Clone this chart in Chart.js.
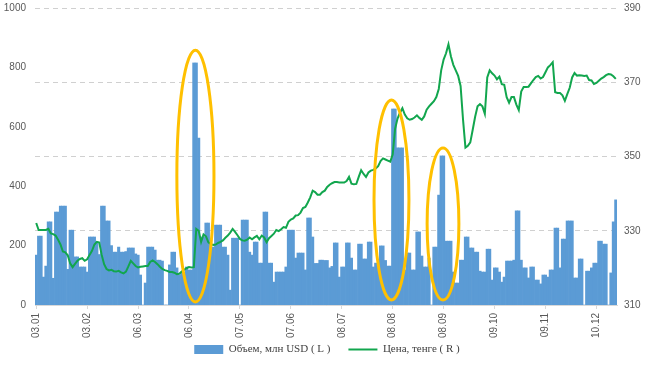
<!DOCTYPE html>
<html>
<head>
<meta charset="utf-8">
<script src="https://cdn.jsdelivr.net/npm/chart.js@4.4.1/dist/chart.umd.min.js"></script>
<style>
html,body{margin:0;padding:0;background:#fff;}
#wrap{width:654px;height:367px;position:relative;}
</style>
</head>
<body>
<div id="wrap"><canvas id="c"></canvas></div>
<script>
// Trading volume, mln USD (left axis)
const volume = [
168,232,232,94,131,280,280,90,313,313,333,333,333,120,252,252,162,162,128,128,
128,111,229,229,229,212,170,333,333,283,283,200,178,178,195,178,178,180,192,192,
192,172,168,101,0,74,195,195,195,185,151,151,148,0,0,135,178,178,125,100,
108,108,128,118,118,815,815,562,229,229,276,276,195,195,269,269,269,195,195,168,
50,225,225,225,0,286,286,286,178,168,212,212,141,141,313,313,141,141,77,111,
111,111,111,128,252,252,252,158,175,175,175,118,293,293,229,140,140,151,151,150,
150,125,130,209,209,94,128,128,209,209,158,118,118,205,205,155,155,212,212,128,
141,141,199,199,150,131,131,660,660,529,529,529,118,175,175,118,118,246,246,165,
128,128,158,0,195,195,370,502,502,215,215,215,111,74,74,151,151,229,229,192,
192,178,178,114,111,111,188,188,84,125,125,111,77,94,148,148,148,151,317,317,
151,125,125,91,128,128,84,84,71,101,101,94,118,118,259,259,125,222,222,283,
283,283,91,91,155,155,0,114,114,125,141,141,215,215,205,205,0,108,280,354
];
// Price, tenge (right axis)
const price = [
332.1,330.2,330.2,330.2,330.2,330.5,329.3,329.1,328.7,327.6,326.3,324.4,324.2,323.4,321.2,320.2,321.1,321.9,322.4,322.6,
321.9,322.3,323.5,324.6,326.3,327.0,326.8,323.5,321.0,319.7,319.3,319.5,319.1,319.0,319.2,318.8,318.5,319.0,320.4,321.9,
321.2,320.5,320.1,320.3,320.4,320.5,320.5,321.6,322.0,321.6,321.0,320.3,319.7,319.4,319.2,318.9,318.9,318.7,318.3,318.4,
319.0,319.5,319.9,320.2,320.1,320.2,330.5,330.0,327.0,329.0,328.5,326.9,326.4,326.2,326.3,326.7,327.0,327.4,328.1,328.7,
329.5,330.5,329.7,328.8,327.8,327.4,327.3,327.6,328.2,327.7,328.2,328.6,327.7,328.7,328.2,326.9,328.0,328.6,329.2,330.2,
329.9,330.4,331.0,330.8,332.4,333.0,333.3,334.1,334.2,334.9,336.1,336.4,337.6,339.0,340.8,340.4,339.7,339.7,340.4,340.8,
341.8,342.4,342.8,343.1,343.1,343.0,343.0,343.0,343.4,344.5,342.7,342.5,342.6,344.5,346.3,345.3,344.5,345.7,346.2,346.4,
346.8,347.4,348.8,349.5,349.2,348.9,348.6,350.5,357.5,360.2,361.8,363.0,361.3,360.3,359.9,360.1,360.5,361.1,360.4,359.9,
360.8,362.6,363.5,364.2,364.9,366.0,368.2,373.2,376.1,377.8,380.2,377.0,374.7,373.2,371.7,369.0,360.0,352.4,352.9,353.8,
357.2,360.7,363.5,364.1,363.5,361.5,371.3,373.2,372.4,371.8,370.8,371.5,369.5,369.3,366.0,364.5,366.0,366.0,364.0,362.5,
367.5,368.7,368.7,368.8,369.7,370.6,371.4,371.7,371.0,371.4,372.7,374.0,374.6,375.4,367.3,367.1,367.1,366.5,365.0,366.8,
368.5,371.3,372.5,371.8,371.9,371.8,371.7,371.8,370.6,370.5,369.5,369.8,370.4,371.0,371.4,371.9,372.2,372.1,371.6,370.9
];
// Day slots (categories) and the labelled ticks
const days = volume.map((_, i) => i);
const tickIndex = [0, 21, 42, 63, 84, 105, 126, 147, 168, 189, 210, 231];
const tickLabels = ['03.01','03.02','06.03','06.04','07.05','07.06','08.07','08.08','08.09','09.10','09.11','10.12'];
const volumeTicks = [0, 200, 400, 600, 800, 1000];
const priceTicks = [310, 330, 350, 370, 390];
const seriesNames = ['Объем, млн USD ( L )', 'Цена, тенге ( R )'];
// Highlighted areas (in data units: slot index range, volume range)
const highlights = [
  {from: 58.0, to: 73.3, top: 858, bottom: 10},
  {from: 139.3, to: 153.7, top: 690, bottom: 17},
  {from: 161.2, to: 174.3, top: 529, bottom: 17}
];

const ellipsePlugin = {
  id: 'ellipses',
  afterDatasetsDraw(chart) {
    const ctx = chart.ctx, xs = chart.scales.x, ys = chart.scales.yL;
    ctx.save();
    ctx.strokeStyle = '#FFC000';
    ctx.lineWidth = 3;
    highlights.forEach(h => {
      const x1 = xs.getPixelForValue(h.from), x2 = xs.getPixelForValue(h.to);
      const y1 = ys.getPixelForValue(h.top), y2 = ys.getPixelForValue(h.bottom);
      ctx.beginPath();
      ctx.ellipse((x1 + x2) / 2, (y1 + y2) / 2, Math.abs(x2 - x1) / 2, Math.abs(y2 - y1) / 2, 0, 0, Math.PI * 2);
      ctx.stroke();
    });
    ctx.restore();
  }
};
// Lift the legend a little so it sits just under the rotated date labels
const legendShift = {
  id: 'legendShift',
  afterLayout(chart) {
    const lg = chart.legend;
    if (lg) { lg.top -= 15; lg.height += 15; }
  }
};

const tickFont = {family: 'Liberation Sans', size: 10};
const noPad = s => { s.paddingTop = 0; s.paddingBottom = 0; };
new Chart(document.getElementById('c'), {
  data: {
    labels: days,
    datasets: [
      {type: 'bar', label: seriesNames[0], data: volume, yAxisID: 'yL',
       backgroundColor: '#5B9BD5', borderWidth: 0, barPercentage: 1, categoryPercentage: 1, order: 2},
      {type: 'line', label: seriesNames[1], data: price, yAxisID: 'yR',
       borderColor: '#12A64E', backgroundColor: '#12A64E', borderWidth: 2, pointRadius: 0, tension: 0, order: 1}
    ]
  },
  options: {
    responsive: true, maintainAspectRatio: false, animation: false,
    layout: {padding: {top: 8, left: 0, right: 0, bottom: 0}},
    plugins: {
      tooltip: {enabled: false},
      legend: {
        position: 'bottom', maxHeight: 26,
        labels: {
          usePointStyle: true, pointStyleWidth: 29, boxHeight: 9,
          font: {family: 'Liberation Serif', size: 11}, color: '#404040', padding: 18,
          generateLabels(chart) {
            return chart.data.datasets.map((d, i) => ({
              text: d.label, datasetIndex: i,
              fillStyle: d.backgroundColor, strokeStyle: d.type === 'line' ? d.borderColor : d.backgroundColor,
              lineWidth: d.type === 'line' ? 2 : 0, pointStyle: d.type === 'line' ? 'line' : 'rect',
              fontColor: '#404040', hidden: false
            }));
          }
        }
      }
    },
    scales: {
      x: {
        type: 'category', offset: true,
        afterBuildTicks(s) { s.ticks = tickIndex.map(i => ({value: i})); },
        afterFit(s) { s.height = 36; },
        ticks: {autoSkip: false, maxRotation: 90, minRotation: 90, padding: 4, font: tickFont, color: '#595959',
          callback: (v, i) => tickLabels[i]},
        grid: {offset: false, drawOnChartArea: false, drawTicks: true, tickLength: 4, color: '#D9D9D9'},
        border: {display: true, color: '#D9D9D9'}
      },
      yL: {
        type: 'linear', position: 'left', min: 0, max: 1000,
        afterBuildTicks(s) { s.ticks = volumeTicks.map(v => ({value: v})); },
        afterFit(s) { s.width = 35; noPad(s); },
        ticks: {padding: 9, font: tickFont, color: '#595959', callback: v => String(v)},
        grid: {display: false, drawTicks: false},
        border: {display: false}
      },
      yR: {
        type: 'linear', position: 'right', min: 310, max: 390,
        afterBuildTicks(s) { s.ticks = priceTicks.map(v => ({value: v})); },
        afterFit(s) { s.width = 37; noPad(s); },
        ticks: {padding: 7, font: tickFont, color: '#595959', callback: v => String(v)},
        grid: {display: true, drawTicks: false, color: '#D0D0D0', lineWidth: 1},
        border: {display: false, dash: [5, 4]}
      }
    }
  },
  plugins: [ellipsePlugin, legendShift]
});
</script>
</body>
</html>
